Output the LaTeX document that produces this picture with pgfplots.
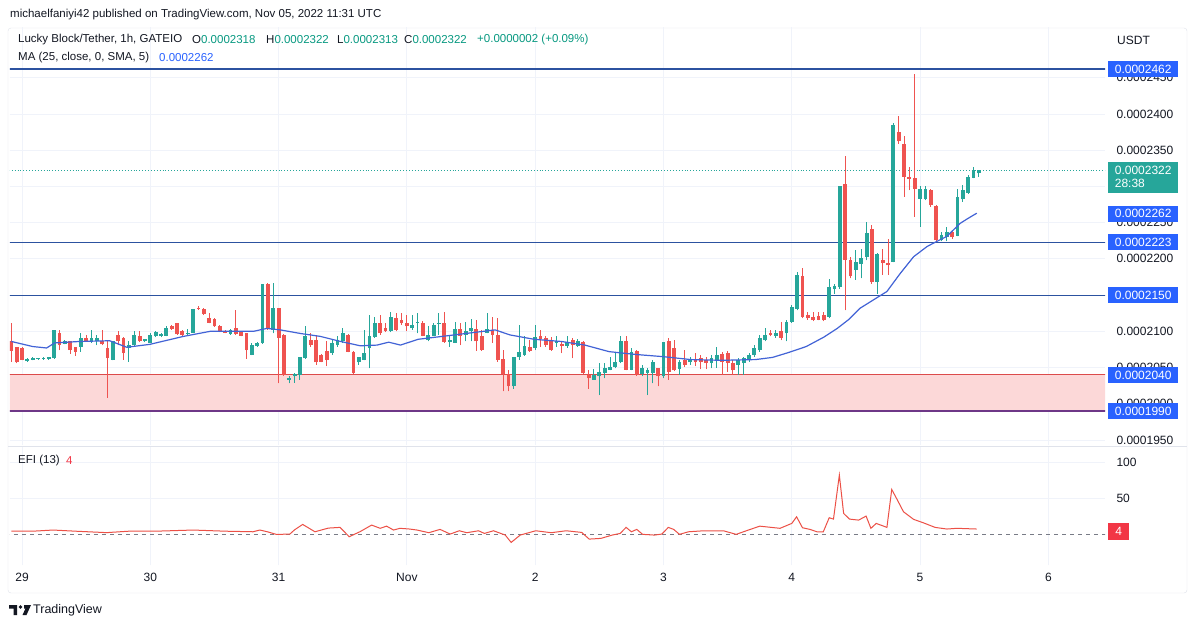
\documentclass[border=0pt]{standalone}
\usepackage{fontspec}
\setmainfont{Liberation Sans}
\usepackage{pgfplots}
\usepackage{pgfplotstable}
\pgfplotsset{compat=1.18}

\definecolor{tvtext}{RGB}{19,23,34}
\definecolor{tvteal}{RGB}{8,153,129}
\definecolor{tvgreen}{RGB}{38,166,154}
\definecolor{tvred}{RGB}{239,83,80}
\definecolor{tvline}{RGB}{44,82,160}
\definecolor{tvma}{RGB}{66,99,214}
\definecolor{tvlabel}{RGB}{41,98,255}
\definecolor{tvzone}{RGB}{252,216,216}
\definecolor{tvzoneline}{RGB}{220,75,75}
\definecolor{tvpurple}{RGB}{110,55,135}
\definecolor{tvgrid}{RGB}{240,243,250}
\definecolor{tvframe}{RGB}{224,227,235}
\definecolor{efired}{RGB}{236,80,70}
\definecolor{boxred}{RGB}{242,54,69}
\definecolor{dashgray}{RGB}{120,123,134}

% hourly candles, h = hours from Oct 29 00:00 UTC, prices in 1e-7 USDT
\pgfplotstableread{
h o hi lo c
1 2059 2063 2058 2062
2 2061 2064 2060 2063
3 2062 2063 2061 2063
4 2062 2064 2061 2063
5 2062 2064 2061 2064
6 2063 2102 2062 2102
8 2083 2088 2082 2087
11 2079 2098 2072 2091
13 2086 2102 2084 2091
14 2086 2095 2081 2091
17 2061 2087 2060 2086
20 2077 2086 2058 2081
21 2081 2100 2079 2095
23 2086 2090 2085 2089
24 2084 2097 2084 2095
25 2093 2100 2092 2099
26 2093 2097 2092 2096
27 2094 2107 2093 2105
31 2096 2103 2095 2098
32 2098 2131 2097 2131
39 2096 2103 2095 2102
43 2068 2084 2067 2081
44 2080 2085 2079 2084
45 2084 2166 2083 2165
47 2102 2167 2097 2132
50 2033 2039 2028 2036
51 2038 2042 2029 2041
52 2040 2065 2033 2065
53 2063 2107 2062 2094
58 2070 2088 2068 2084
59 2081 2093 2079 2088
60 2086 2104 2084 2097
63 2057 2065 2054 2064
64 2061 2102 2060 2070
65 2077 2123 2049 2093
66 2092 2120 2091 2111
69 2100 2126 2099 2120
73 2104 2123 2102 2109
74 2112 2125 2097 2113
76 2088 2107 2086 2095
77 2094 2111 2093 2109
78 2111 2125 2095 2112
80 2085 2093 2079 2088
81 2084 2113 2084 2103
83 2095 2113 2086 2100
84 2100 2117 2086 2104
87 2098 2125 2097 2103
92 2024 2065 2021 2065
93 2064 2109 2061 2071
94 2068 2093 2066 2080
96 2077 2109 2074 2092
100 2084 2093 2079 2087
102 2080 2093 2077 2085
104 2080 2089 2079 2086
107 2033 2048 2033 2040
108 2038 2056 2012 2044
109 2042 2056 2035 2049
110 2047 2065 2046 2051
111 2051 2072 2049 2058
112 2058 2093 2056 2086
114 2047 2077 2046 2072
116 2041 2054 2038 2050
117 2043 2049 2012 2047
118 2042 2061 2028 2058
120 2038 2085 2035 2085
123 2048 2061 2040 2058
125 2057 2065 2054 2062
129 2056 2068 2049 2063
130 2061 2079 2050 2068
134 2054 2063 2040 2061
135 2056 2065 2040 2063
136 2061 2070 2058 2068
137 2068 2081 2065 2077
138 2074 2095 2072 2091
139 2088 2104 2086 2095
141 2094 2102 2091 2098
143 2097 2115 2086 2113
144 2113 2137 2112 2133
145 2131 2182 2129 2178
151 2120 2172 2118 2161
152 2158 2166 2152 2162
153 2161 2300 2159 2300
156 2185 2212 2171 2196
157 2193 2214 2173 2201
158 2203 2251 2198 2236
160 2168 2208 2152 2207
163 2196 2387 2195 2385
168 2283 2300 2244 2297
169 2282 2300 2281 2297
172 2226 2237 2224 2233
173 2230 2244 2224 2237
175 2232 2297 2231 2286
176 2282 2302 2279 2295
177 2291 2316 2290 2313
178 2312 2327 2311 2323
179 2318 2322 2313 2322
}\upcandles

\pgfplotstableread{
h o hi lo c
-2 2087 2111 2058 2073
-1 2079 2079 2056 2057
0 2077 2078 2060 2061
7 2098 2102 2074 2081
9 2087 2087 2069 2074
10 2079 2079 2066 2072
12 2091 2095 2086 2087
15 2086 2102 2081 2082
16 2077 2088 2008 2063
18 2095 2100 2081 2086
19 2091 2092 2061 2070
22 2094 2100 2085 2087
28 2107 2109 2102 2103
29 2111 2112 2095 2096
30 2100 2102 2094 2095
33 2132 2135 2130 2131
34 2131 2132 2123 2124
35 2118 2125 2111 2112
36 2117 2119 2106 2107
37 2108 2109 2099 2100
38 2101 2102 2097 2098
40 2104 2130 2095 2096
41 2100 2101 2093 2094
42 2097 2098 2062 2074
46 2165 2167 2102 2104
48 2132 2132 2028 2091
49 2095 2096 2039 2040
54 2088 2097 2079 2081
55 2088 2095 2054 2057
56 2068 2069 2057 2058
57 2073 2086 2052 2061
61 2095 2096 2071 2072
62 2072 2073 2041 2042
67 2111 2123 2095 2097
68 2104 2111 2099 2100
70 2118 2125 2100 2102
71 2116 2125 2109 2111
72 2111 2123 2100 2107
75 2112 2114 2093 2094
79 2112 2126 2084 2085
82 2103 2111 2081 2094
85 2103 2116 2073 2086
86 2094 2102 2073 2074
88 2102 2120 2084 2095
89 2095 2118 2058 2061
90 2062 2074 2017 2041
91 2041 2047 2017 2024
95 2079 2088 2072 2073
97 2093 2102 2079 2089
98 2091 2093 2079 2081
99 2086 2092 2073 2074
101 2082 2087 2070 2080
103 2088 2091 2063 2081
105 2085 2086 2041 2042
106 2040 2047 2021 2035
113 2086 2093 2046 2047
115 2073 2074 2039 2040
119 2049 2050 2024 2038
121 2086 2091 2033 2044
122 2077 2088 2045 2046
124 2061 2074 2051 2054
126 2062 2070 2052 2057
127 2063 2068 2048 2058
128 2061 2065 2048 2056
131 2069 2072 2040 2058
132 2070 2073 2044 2056
133 2056 2061 2040 2046
140 2098 2102 2093 2095
142 2100 2113 2088 2091
146 2177 2187 2118 2120
147 2122 2127 2116 2118
148 2120 2127 2114 2115
149 2121 2127 2115 2116
150 2122 2126 2114 2115
154 2303 2342 2129 2199
155 2199 2203 2173 2176
159 2241 2247 2166 2168
161 2199 2214 2178 2194
162 2194 2228 2178 2191
164 2375 2397 2359 2362
165 2359 2369 2286 2313
166 2313 2327 2295 2310
167 2311 2455 2258 2297
170 2295 2297 2272 2274
171 2273 2274 2224 2226
174 2237 2240 2228 2230
}\downcandles

% MA (25, close)
\pgfplotstableread{
h ma
-2 2086
2 2079
4.6 2077
6.1 2084
10.8 2086
16.4 2087
19.6 2078
23.9 2082
30.2 2093
35.2 2100
39.6 2100
43.3 2100
45.8 2104
48.3 2102
52.1 2097
55.8 2093
59.6 2086
63.3 2080
66.4 2081
68.6 2085
70.8 2081
74.1 2089
78.6 2093
83 2097
88.5 2102
91.3 2095
95.8 2089
100.9 2086
105.3 2081
109.8 2072
114.9 2068
120 2065
125.1 2061
130.8 2060
137.2 2061
140.4 2064
143.5 2071
146.7 2079
150 2092
152.5 2104
154.6 2116
156.8 2132
161.8 2155
164.3 2180
166.8 2203
169.3 2217
171.1 2224
173 2231
175.5 2249
177 2256
178.6 2263
}\matable

% EFI (13)
\pgfplotstableread{
h efi
-2 4
2 4
5.8 5.6
10 4
15.8 2
20 4
25 4
32 5.6
38 4
43.2 3.2
44.5 5.6
46 3
47.6 -0.5
50.1 0
51 6
52.5 13.4
54.8 3.2
57.3 8.3
59.5 9.3
61.2 -3.7
63.2 3.2
65.4 12.5
67 8
68.2 11
69.5 5.6
70.7 8
72.5 7
73.9 5.6
76.1 1.9
78.2 6.5
80.1 0
81.8 4.6
83.2 1.9
85.4 4.6
86.5 0.9
88.2 4.6
90.4 -1.4
91.5 -11.6
93.2 -1.4
96.1 4.6
99 1.9
101.8 4.6
104.7 2.3
106.1 -7
108.3 -6
110.4 -1.4
111.9 0.9
113 9.3
114 3.2
115 6.5
116.1 -0.4
118.3 -1.4
119.7 0
120.9 9.3
121.9 6.5
123 -0.4
124.7 3.2
127.6 4.6
131.2 4.6
133.6 -0.4
135.5 4.6
138 11
141.8 8
144 14.8
144.9 24
146 8.8
147.4 6.5
148.7 3.2
149.9 3.2
151 22.7
151.8 20.8
152.9 82
153.7 28.7
154.8 20.8
156.5 19.4
157.9 25
158.8 8
159.8 14.8
161.8 9.3
162.7 62
163.6 49.5
164.9 31
166.8 20.4
168.6 15.7
170.8 9.3
173 7
174.9 8
178.6 7
}\efitable

\pgfplotsset{
  tvpanel/.style={
    scale only axis, width=1095pt,
    xmin=-2.25, xmax=202.6,
    axis line style={draw=none},
    tick style={draw=none},
    xtick={0,24,...,192},
    grid=major, major grid style={tvgrid, line width=0.9pt},
    yticklabel pos=right,
    yticklabel style={xshift=8pt, text=tvtext, font=\fontsize{12}{14}\selectfont},
    xticklabel style={text=tvtext, font=\fontsize{12}{14}\selectfont},
  },
  wick/.style={#1, only marks, mark=*, mark size=0pt,
    mark options={draw=none, fill=none}, forget plot,
    error bars/.cd, y dir=plus, y explicit, error mark=none,
    error bar style={line width=1pt, #1}},
  body/.style={#1, only marks, mark=*, mark size=0pt,
    mark options={draw=none, fill=none}, forget plot,
    error bars/.cd, y dir=plus, y explicit, error mark=none,
    error bar style={line width=3.8pt, #1}},
}

\begin{document}
\begin{tikzpicture}[font=\fontsize{11.5}{13}\selectfont, text=tvtext]
\path[fill=white] (0pt,0pt) rectangle (1194pt,-627pt);
\draw[tvframe, rounded corners=3pt] (8pt,-28pt) rectangle (1187pt,-593pt);
\draw[tvframe] (8pt,-446pt) -- (1187pt,-446pt);

\begin{axis}[tvpanel,
  at={(10pt,-445pt)}, anchor=south west, height=418pt,
  ymin=1943.1, ymax=2520,
  xticklabels={},
  ytick={1950,2000,2050,2100,2150,2200,2250,2350,2400,2450},
  yticklabels={0.0001950,0.0002000,0.0002050,0.0002100,0.0002150,0.0002200,0.0002250,0.0002350,0.0002400,0.0002450},
  extra y ticks={2300}, extra y tick labels={},
  extra y tick style={grid=major},
]
% support zone
\addplot[draw=none, fill=tvzone, forget plot] coordinates {(-3,1990) (203,1990) (203,2040) (-3,2040) (-3,1990)};
\addplot[tvzoneline, line width=1pt] coordinates {(-3,2040) (203,2040)};
\addplot[tvpurple, line width=2pt] coordinates {(-3,1990) (203,1990)};
% horizontal levels
\addplot[tvline, line width=1.1pt] coordinates {(-3,2462) (203,2462)};
\addplot[tvline, line width=1.1pt] coordinates {(-3,2223) (203,2223)};
\addplot[tvline, line width=1.1pt] coordinates {(-3,2150) (203,2150)};
\addplot[tvgreen, dotted, line width=0.9pt] coordinates {(-3,2322) (203,2322)};
% candles
\addplot[wick=tvgreen] table[x=h, y=lo, y error plus expr=\thisrow{hi}-\thisrow{lo}] {\upcandles};
\addplot[body=tvgreen] table[x=h, y=o, y error plus expr=\thisrow{c}-\thisrow{o}] {\upcandles};
\addplot[wick=tvred] table[x=h, y=lo, y error plus expr=\thisrow{hi}-\thisrow{lo}] {\downcandles};
\addplot[body=tvred] table[x=h, y=c, y error plus expr=\thisrow{o}-\thisrow{c}] {\downcandles};
% moving average
\addplot[tvma, line width=1.2pt] table[x=h, y=ma] {\matable};
\end{axis}

\begin{axis}[tvpanel,
  at={(10pt,-565pt)}, anchor=south west, height=118pt,
  ymin=-43, ymax=121,
  xticklabels={29,30,31,Nov,2,3,4,5,6},
  xticklabel style={yshift=-5pt},
  ytick={50,100}, yticklabels={50,100},
]
\addplot[dashgray, line width=0.9pt, dash pattern=on 4pt off 4pt] coordinates {(-3,0) (203,0)};
\addplot[efired, line width=1pt] table[x=h, y=efi] {\efitable};
\end{axis}

% header and legends
\node[anchor=west, inner sep=0pt] at (10pt,-15pt) {michaelfaniyi42 published on TradingView.com, Nov 05, 2022 11:31 UTC};
\node[anchor=west, inner sep=0pt] at (18pt,-40pt) {Lucky Block/Tether, 1h, GATEIO};
\node[anchor=west, inner sep=0pt] at (192pt,-40pt) {O\textcolor{tvteal}{0.0002318}};
\node[anchor=west, inner sep=0pt] at (266pt,-40pt) {H\textcolor{tvteal}{0.0002322}};
\node[anchor=west, inner sep=0pt] at (337pt,-40pt) {L\textcolor{tvteal}{0.0002313}};
\node[anchor=west, inner sep=0pt] at (404pt,-40pt) {C\textcolor{tvteal}{0.0002322}};
\node[anchor=west, inner sep=0pt, text=tvteal] at (477pt,-40pt) {+0.0000002 (+0.09\%)};
\node[anchor=west, inner sep=0pt] at (18pt,-58pt) {MA (25, close, 0, SMA, 5)};
\node[anchor=west, inner sep=0pt, text=tvlabel] at (159pt,-58pt) {0.0002262};
\node[anchor=west, inner sep=0pt] at (18pt,-461pt) {EFI (13)};
\node[anchor=west, inner sep=0pt, text=boxred] at (66pt,-461pt) {4};
\node[anchor=west, inner sep=0pt, font=\fontsize{12}{14}\selectfont] at (1117pt,-40pt) {USDT};

% price-scale labels
\tikzset{pricebox/.style={anchor=west, fill=#1, text=white, minimum width=70pt,
  minimum height=16pt, inner sep=0pt, font=\fontsize{12}{14}\selectfont}}
\node[pricebox=tvlabel] at (1108pt,-69pt) {0.0002462};
\node[pricebox=tvlabel] at (1108pt,-213.5pt) {0.0002262};
\node[pricebox=tvlabel] at (1108pt,-242pt) {0.0002223};
\node[pricebox=tvlabel] at (1108pt,-295pt) {0.0002150};
\node[pricebox=tvlabel] at (1108pt,-375pt) {0.0002040};
\node[pricebox=tvlabel] at (1108pt,-411pt) {0.0001990};
\node[pricebox=tvgreen, minimum height=31pt, align=left] at (1108pt,-177pt) {0.0002322\\[-1pt]28:38\hspace{27pt}};
\node[pricebox=boxred, minimum width=21pt, minimum height=17pt] at (1108pt,-531pt) {4};

% TradingView logo
\fill[tvtext] (9pt,-605pt) -- (17pt,-605pt) -- (17pt,-615pt) -- (13.5pt,-615pt) -- (13.5pt,-608.5pt) -- (9pt,-608.5pt) -- cycle;
\fill[tvtext] (20.5pt,-607pt) circle (1.8pt);
\fill[tvtext] (24pt,-605pt) -- (31pt,-605pt) -- (26.5pt,-615pt) -- (22.5pt,-615pt) -- (25.5pt,-608.5pt) -- (24pt,-608.5pt) -- cycle;
\node[anchor=west, inner sep=0pt, font=\fontsize{12.5}{14}\selectfont] at (33pt,-610pt) {TradingView};

\pgfresetboundingbox
\path (0pt,0pt) rectangle (1194pt,-627pt);
\end{tikzpicture}
\end{document}
